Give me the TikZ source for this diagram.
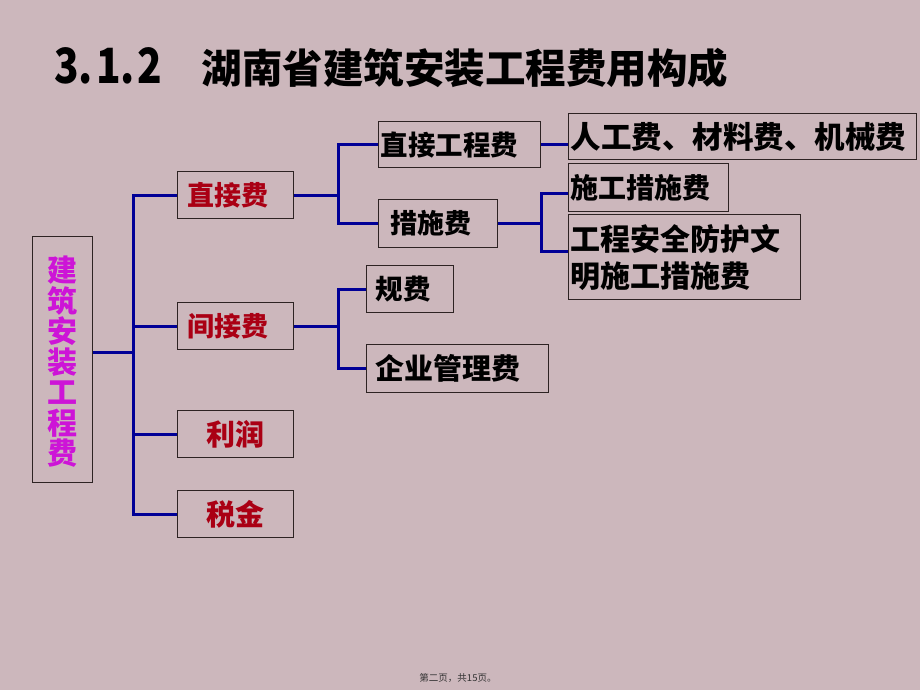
\documentclass[tikz,border=0pt]{standalone}
\usepackage{fontspec}
\newfontfamily\cjk{Noto Sans CJK SC}
\definecolor{bg}{RGB}{204,183,188}
\definecolor{navy}{RGB}{0,0,150}
\definecolor{dred}{RGB}{170,0,20}
\definecolor{mag}{RGB}{205,20,215}
\definecolor{edge}{RGB}{45,35,35}
\begin{document}
\begin{tikzpicture}[x=1pt,y=-1pt,
  box/.style={draw=edge, line width=1.3pt, anchor=north west, inner ysep=0pt, align=left},
  f/.style={font=\cjk\bfseries\fontsize{#1}{#1}\selectfont},
  conn/.style={draw=navy, line width=3pt, line join=miter}]
\fill[bg] (0,0) rectangle (920,690);
\useasboundingbox (0,0) rectangle (920,690);

% title
\node[anchor=west, inner sep=0pt, f=40.5] (title) at (54,68)
  {\scalebox{1}[1.2]{3.\hspace{3pt}1.\hspace{3pt}2}\hspace{39pt}湖南省建筑安装工程费用构成};

% root
\node[box, minimum height=246pt, text width=60pt, inner xsep=0pt, align=center, text=mag,
  font=\cjk\bfseries\fontsize{30}{30.5}\selectfont] (root) at (32,236)
  {\rule{0pt}{8pt}\\[-8pt]建\\筑\\安\\装\\工\\程\\费};

% level 1
\node[box, minimum height=47pt, text width=96pt, inner xsep=10pt, text=dred, f=27] (zjf) at (177,171) {直接费};
\node[box, minimum height=47pt, text width=96pt, inner xsep=10pt, text=dred, f=27] (jjf) at (177,302) {间接费};
\node[box, minimum height=47pt, text width=116pt, inner xsep=0pt, align=center, text=dred, f=29] (lr) at (177,410) {利润};
\node[box, minimum height=47pt, text width=116pt, inner xsep=0pt, align=center, text=dred, f=29] (sj) at (177,490) {税金};

% level 2
\node[box, minimum height=46pt, text width=158pt, inner xsep=2pt, f=27.5] (zjgc) at (378,121) {直接工程费};
\node[box, minimum height=48pt, text width=95pt, inner xsep=12pt, f=27] (csf) at (378,199) {措施费};
\node[box, minimum height=47pt, text width=69pt, inner xsep=9pt, f=27.5] (gf) at (366,265) {规费};
\node[box, minimum height=48pt, text width=164pt, inner xsep=9pt, f=29] (qygl) at (366,344) {企业管理费};

% level 3
\node[box, minimum height=46pt, text width=344pt, inner xsep=2pt, f=30.5] (rgf) at (568,113) {人工费、材料费、机械费};
\node[box, minimum height=48pt, text width=156pt, inner xsep=2pt, f=28] (sgcs) at (568,163) {施工措施费};
\node[box, minimum height=85pt, text width=228pt, inner xsep=2pt,
  font=\cjk\bfseries\fontsize{30}{37}\selectfont] (aqwm) at (568,214) {工程安全防护文\\明施工措施费};

% connectors
\coordinate (t) at (133,352);
\draw[conn] (root.east |- t) -- (t);
\draw[conn] (t) |- (zjf.west);
\draw[conn] (t) |- (jjf.west);
\draw[conn] (t) |- (lr.west);
\draw[conn] (t) |- (sj.west);

\path (zjf.east) -- ++(44,0) coordinate (a);
\draw[conn] (zjf.east) -- (a);
\draw[conn] (a) |- (zjgc.west);
\draw[conn] (a) |- (csf.west);

\path (jjf.east) -- ++(44,0) coordinate (b);
\draw[conn] (jjf.east) -- (b);
\draw[conn] (b) |- (gf.west);
\draw[conn] (b) |- (qygl.west);

\draw[conn] (zjgc.east) -- (zjgc.east -| rgf.west);

\path (csf.east) -- ++(43,0) coordinate (c);
\draw[conn] (csf.east) -- (c);
\draw[conn] (c) |- ([yshift=-6pt]sgcs.west);
\draw[conn] (c) |- ([yshift=6pt]aqwm.west);

% footer
\node[inner sep=0pt, text=black!80, font=\cjk\fontsize{9.5}{10}\selectfont] (foot) at (458,678) {第二页，共15页。};
\end{tikzpicture}
\end{document}
